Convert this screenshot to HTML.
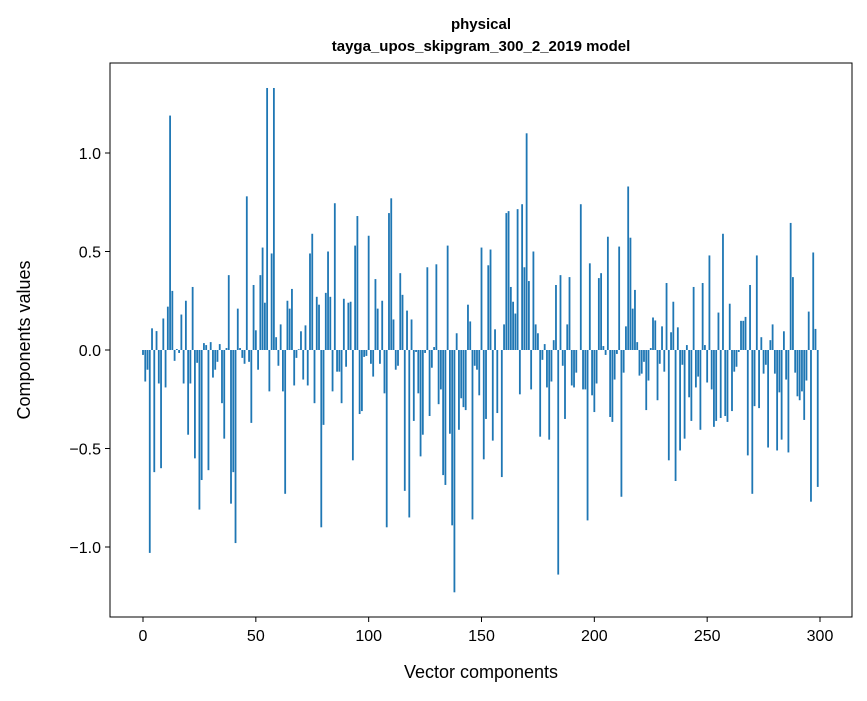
<!DOCTYPE html>
<html><head><meta charset="utf-8"><style>
body{margin:0;background:#fff}
svg text{font-family:"Liberation Sans",sans-serif;fill:#000}
</style></head><body>
<svg id="chart" width="867" height="696" xmlns="http://www.w3.org/2000/svg">
<rect width="867" height="696" fill="#fff"/>
<text x="481" y="29" font-size="15" font-weight="bold" text-anchor="middle">physical</text>
<text x="481" y="51" font-size="15" font-weight="bold" text-anchor="middle">tayga_upos_skipgram_300_2_2019 model</text>
<g id="bars"></g>
<g id="axes"></g>
<text x="481" y="678" font-size="18" text-anchor="middle">Vector components</text>
<text x="30" y="340" font-size="18" text-anchor="middle" transform="rotate(-90 30 340)">Components values</text>
</svg>
<script>
const values = [
-0.025,-0.16,-0.1,-1.03,0.11,-0.62,0.096,-0.17,-0.60,0.16,
-0.19,0.22,1.19,0.30,-0.055,0.005,-0.015,0.18,-0.17,0.25,
-0.43,-0.17,0.32,-0.55,-0.065,-0.81,-0.66,0.035,0.025,-0.61,
0.04,-0.14,-0.10,-0.06,0.03,-0.27,-0.45,0.01,0.38,-0.78,
-0.62,-0.98,0.21,0.01,-0.04,-0.07,0.78,-0.06,-0.37,0.33,
0.10,-0.10,0.38,0.52,0.24,1.33,-0.21,0.49,1.33,0.065,
-0.08,0.13,-0.21,-0.73,0.25,0.21,0.31,-0.18,-0.04,0.004,
0.095,-0.15,0.125,-0.18,0.49,0.59,-0.27,0.27,0.23,-0.90,
-0.38,0.29,0.50,0.27,-0.21,0.745,-0.11,-0.11,-0.27,0.26,
-0.085,0.24,0.245,-0.56,0.53,0.68,-0.325,-0.31,-0.035,-0.03,
0.58,-0.07,-0.135,0.36,0.21,-0.07,0.25,-0.22,-0.90,0.695,
0.77,0.155,-0.10,-0.08,0.39,0.28,-0.715,0.20,-0.85,0.155,
-0.36,-0.01,-0.22,-0.54,-0.43,-0.015,0.42,-0.335,-0.09,0.015,
0.435,-0.275,-0.20,-0.635,-0.685,0.53,-0.425,-0.89,-1.23,0.085,
-0.405,-0.245,-0.29,-0.305,0.23,0.145,-0.86,-0.08,-0.10,-0.23,
0.52,-0.555,-0.35,0.43,0.51,-0.46,0.105,-0.32,0.0,-0.645,
0.13,0.695,0.705,0.32,0.245,0.185,0.715,-0.225,0.74,0.42,
1.10,0.35,-0.20,0.50,0.13,0.085,-0.44,-0.05,0.03,-0.19,
-0.455,-0.16,0.05,0.33,-1.14,0.38,-0.08,-0.35,0.13,0.37,
-0.18,-0.19,-0.115,0.0,0.74,-0.20,-0.20,-0.865,0.44,-0.23,
-0.315,-0.17,0.365,0.39,0.02,-0.025,0.575,-0.34,-0.365,-0.15,
-0.02,0.525,-0.745,-0.115,0.12,0.83,0.57,0.21,0.305,0.04,
-0.13,-0.12,-0.06,-0.305,-0.155,0.01,0.165,0.15,-0.255,-0.07,
0.12,-0.11,0.34,-0.56,0.09,0.245,-0.665,0.115,-0.51,-0.075,
-0.45,0.025,-0.24,-0.36,0.32,-0.19,-0.135,-0.405,0.34,0.025,
-0.165,0.48,-0.20,-0.39,-0.36,0.19,-0.345,0.59,-0.335,-0.365,
0.235,-0.31,-0.11,-0.085,-0.01,0.148,0.148,0.168,-0.535,0.33,
-0.73,-0.285,0.48,-0.295,0.065,-0.12,-0.075,-0.495,0.05,0.13,
-0.12,-0.51,-0.215,-0.455,0.095,-0.15,-0.52,0.645,0.37,-0.115,
-0.235,-0.255,-0.21,-0.355,-0.155,0.195,-0.77,0.495,0.107,-0.695
];
const xTicks = [0,50,100,150,200,250,300];
const yTicks = [-1.0,-0.5,0.0,0.5,1.0];
const yTickLabels = ["\u22121.0","\u22120.5","0.0","0.5","1.0"];

const NS="http://www.w3.org/2000/svg";
const L=110,R=852,T=63,B=617;
function xs(v){return 143+v*(677/300);}
function ys(v){return 350-v*197;}
const bars=document.getElementById('bars');
values.forEach(function(v,i){
  const r=document.createElementNS(NS,'rect');
  const w=0.8*(677/300);
  r.setAttribute('x',xs(i)-w/2);
  r.setAttribute('width',w);
  r.setAttribute('y',Math.min(ys(v),ys(0)));
  r.setAttribute('height',Math.abs(ys(v)-ys(0)));
  r.setAttribute('fill','#1f77b4');
  
  
  bars.appendChild(r);
});
const axes=document.getElementById('axes');
const frame=document.createElementNS(NS,'rect');
frame.setAttribute('x',L);frame.setAttribute('y',T);
frame.setAttribute('width',R-L);frame.setAttribute('height',B-T);
frame.setAttribute('fill','none');frame.setAttribute('stroke','#000');frame.setAttribute('stroke-width','1');


axes.appendChild(frame);
xTicks.forEach(function(t){
  const x=xs(t);
  const l=document.createElementNS(NS,'line');
  l.setAttribute('x1',x);l.setAttribute('x2',x);l.setAttribute('y1',B);l.setAttribute('y2',B+5);
  l.setAttribute('stroke','#000');
  
  
  axes.appendChild(l);
  const tx=document.createElementNS(NS,'text');
  tx.setAttribute('x',x);tx.setAttribute('y',B+24);tx.setAttribute('font-size','16');tx.setAttribute('text-anchor','middle');
  tx.textContent=String(t);
  
  
  axes.appendChild(tx);
});
yTicks.forEach(function(t,i){
  const y=ys(t);
  const l=document.createElementNS(NS,'line');
  l.setAttribute('x1',L-5);l.setAttribute('x2',L);l.setAttribute('y1',y);l.setAttribute('y2',y);
  l.setAttribute('stroke','#000');
  
  
  axes.appendChild(l);
  const tx=document.createElementNS(NS,'text');
  tx.setAttribute('x',L-9);tx.setAttribute('y',y+6);tx.setAttribute('font-size','16');tx.setAttribute('text-anchor','end');
  tx.textContent=yTickLabels[i];
  
  
  axes.appendChild(tx);
});
</script>
</body></html>
